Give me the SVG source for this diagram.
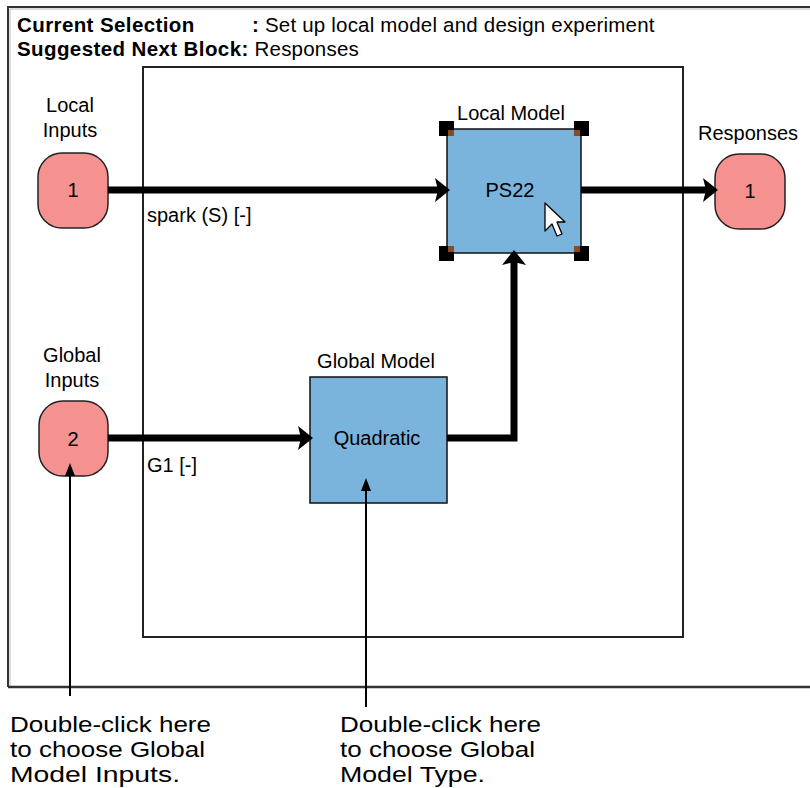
<svg xmlns="http://www.w3.org/2000/svg" width="810" height="788" viewBox="0 0 810 788">
<style>
text{font-family:"Liberation Sans",Arial,sans-serif;fill:#000}
.lbl{font-size:20px}
.hb{font-size:20.5px;font-weight:bold;letter-spacing:0.4px}
.hn{font-size:20.5px;letter-spacing:0.2px}
.ann{font-size:21.5px}
.port{fill:#F59290;stroke:#222;stroke-width:1.5}
.blk{fill:#7AB3DC;stroke:#111;stroke-width:1.5}
.wire{fill:none;stroke:#000;stroke-width:7}
.ptr{fill:none;stroke:#000;stroke-width:2}
.hd{fill:#000}
.hi{fill:#8B4A1E}
</style>
<defs>
<marker id="ah" markerUnits="userSpaceOnUse" markerWidth="16" markerHeight="26" refX="6" refY="12" orient="auto">
<path d="M0,0 L15,12 L0,24 L3,12 Z" fill="#000"/>
</marker>
<marker id="ap" markerUnits="userSpaceOnUse" markerWidth="14" markerHeight="12" refX="2" refY="5" orient="auto">
<path d="M0,0 L13,5 L0,10 Z" fill="#000"/>
</marker>
</defs>
<rect width="810" height="788" fill="#fff"/>
<g id="frame">
<path d="M8,687 V7 H812" fill="none" stroke="#333" stroke-width="2"/>
<path d="M10,686 V9 H812" fill="none" stroke="#bbb" stroke-width="1"/>
<path d="M8,687 H812" fill="none" stroke="#333" stroke-width="2.5"/>
<rect x="143" y="67" width="540" height="570" fill="none" stroke="#222" stroke-width="2"/>
</g>
<g id="header">
<text x="17" y="32" class="hb">Current Selection</text>
<text x="252" y="32" class="hn"><tspan font-weight="bold">:</tspan> Set up local model and design experiment</text>
<text x="17" y="56" class="hb">Suggested Next Block:<tspan class="hn" font-weight="normal"> Responses</tspan></text>
</g>
<g id="local-inputs">
<text x="70" y="112" class="lbl" text-anchor="middle">Local</text>
<text x="70" y="137" class="lbl" text-anchor="middle">Inputs</text>
<rect class="port" x="38" y="153" width="70" height="75" rx="24" ry="24"/>
<text x="73" y="197" class="lbl" text-anchor="middle">1</text>
<text x="147" y="222" class="lbl">spark (S) [-]</text>
</g>
<g id="global-inputs">
<text x="72" y="362" class="lbl" text-anchor="middle">Global</text>
<text x="72" y="387" class="lbl" text-anchor="middle">Inputs</text>
<rect class="port" x="39" y="401" width="69" height="75" rx="24" ry="24"/>
<text x="73" y="446" class="lbl" text-anchor="middle">2</text>
<text x="147" y="472" class="lbl">G1 [-]</text>
</g>
<g id="global-model">
<text x="376" y="368" class="lbl" text-anchor="middle">Global Model</text>
<rect class="blk" x="310" y="377" width="137" height="126"/>
<text x="377" y="445" class="lbl" text-anchor="middle">Quadratic</text>
</g>
<g id="local-model">
<text x="511" y="120" class="lbl" text-anchor="middle">Local Model</text>
<rect class="blk" x="447" y="129" width="134" height="124"/>
<text x="510" y="197" class="lbl" text-anchor="middle">PS22</text>
<rect class="hd" x="439" y="121" width="15" height="15"/>
<rect class="hd" x="574" y="121" width="15" height="15"/>
<rect class="hd" x="439" y="246" width="15" height="15"/>
<rect class="hd" x="574" y="246" width="15" height="15"/>
<rect class="hi" x="448" y="130" width="6" height="6"/>
<rect class="hi" x="574" y="130" width="6" height="6"/>
<rect class="hi" x="448" y="246" width="6" height="6"/>
<rect class="hi" x="574" y="246" width="6" height="6"/>
<path d="M545,203 V231 L552,224 L557,236 L562,234 L557,222 L565,222 Z" fill="#fff" stroke="#000" stroke-width="1.3" stroke-linejoin="round"/>
</g>
<g id="responses">
<text x="748" y="140" class="lbl" text-anchor="middle">Responses</text>
<rect class="port" x="715" y="154" width="70" height="75" rx="24" ry="24"/>
<text x="750" y="198" class="lbl" text-anchor="middle">1</text>
</g>
<g id="connectors">
<path class="wire" d="M108,190 H441" marker-end="url(#ah)"/>
<path class="wire" d="M581,190 H709" marker-end="url(#ah)"/>
<path class="wire" d="M108,438 H304" marker-end="url(#ah)"/>
<path class="wire" d="M447,438 H514 V259" marker-end="url(#ah)"/>
<path class="ptr" d="M70,696 V474" marker-end="url(#ap)"/>
<path class="ptr" d="M366,707 V489" marker-end="url(#ap)"/>
</g>
<g id="notes">
<text x="10" y="732" class="ann" textLength="201" lengthAdjust="spacingAndGlyphs">Double-click here</text>
<text x="10" y="757" class="ann" textLength="195" lengthAdjust="spacingAndGlyphs">to choose Global</text>
<text x="10" y="782" class="ann" textLength="170" lengthAdjust="spacingAndGlyphs">Model Inputs.</text>
<text x="340" y="732" class="ann" textLength="201" lengthAdjust="spacingAndGlyphs">Double-click here</text>
<text x="340" y="757" class="ann" textLength="195" lengthAdjust="spacingAndGlyphs">to choose Global</text>
<text x="340" y="782" class="ann" textLength="145" lengthAdjust="spacingAndGlyphs">Model Type.</text>
</g>
</svg>
